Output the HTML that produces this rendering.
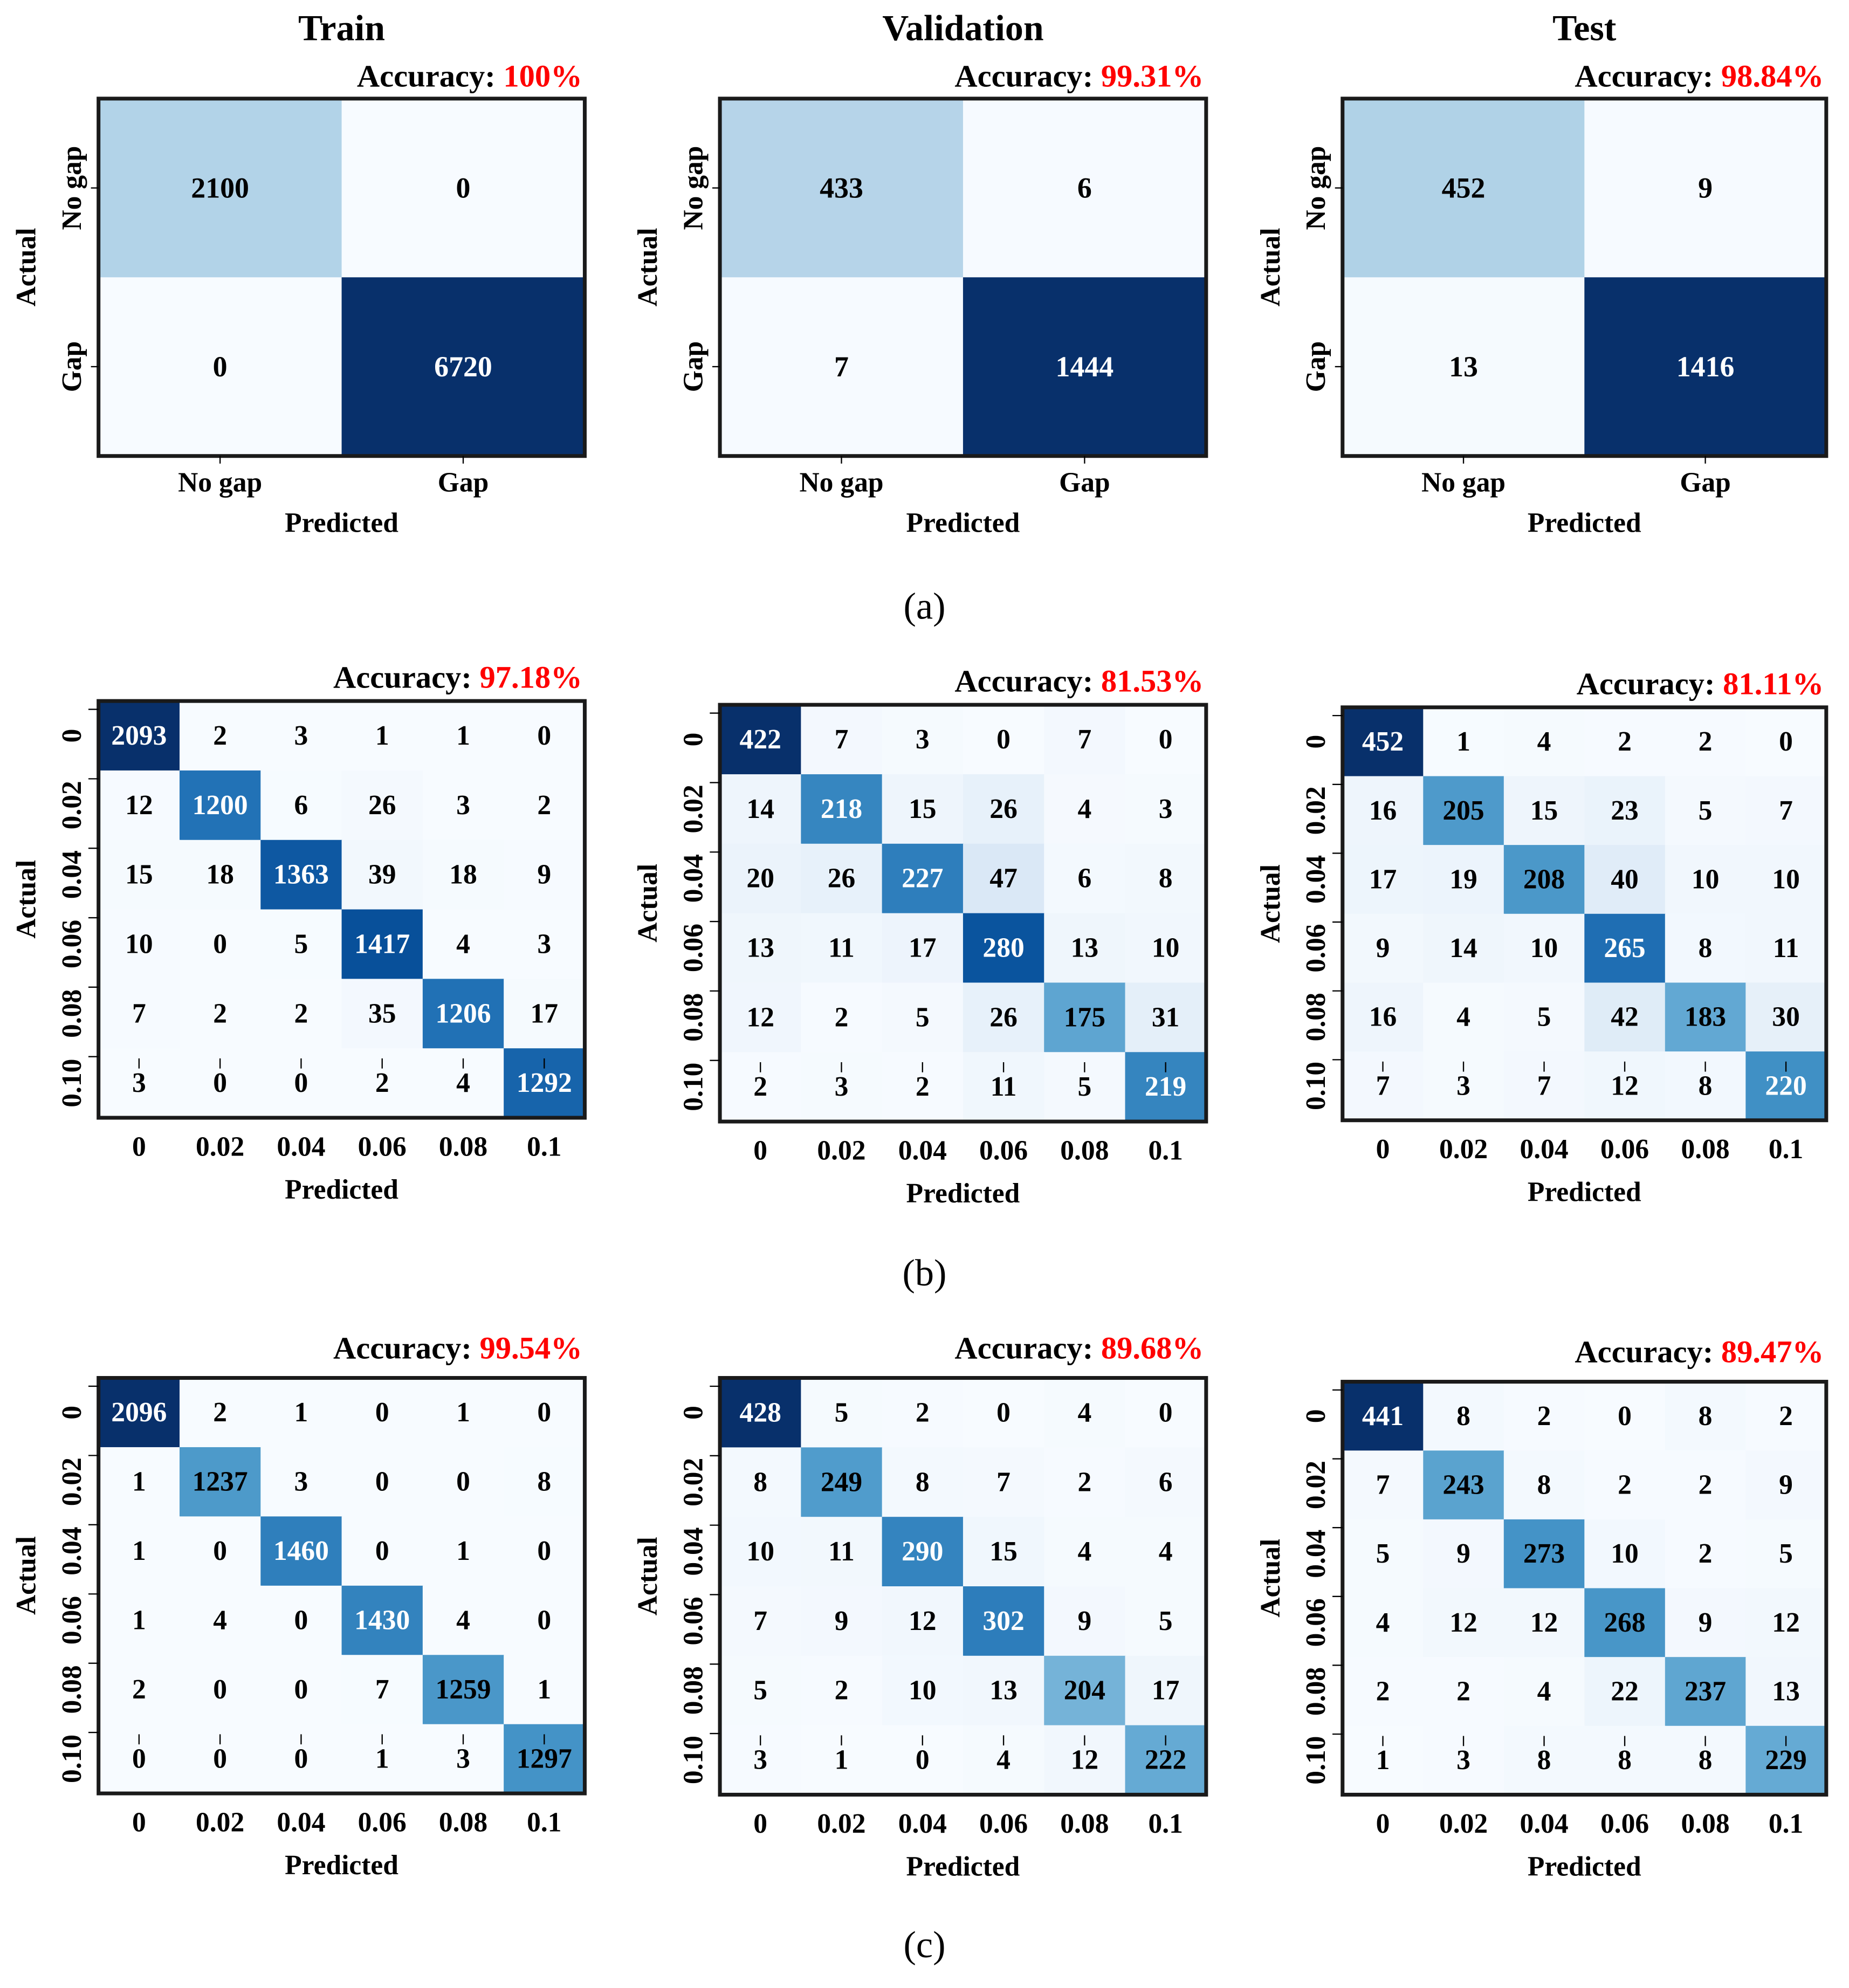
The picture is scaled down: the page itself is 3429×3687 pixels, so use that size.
<!DOCTYPE html>
<html><head><meta charset="utf-8">
<style>
html,body{margin:0;padding:0;background:#fff;}
svg{display:block;}
text{font-family:"Liberation Serif",serif;font-weight:bold;fill:#000;}
</style></head>
<body>
<svg id="fig" xmlns="http://www.w3.org/2000/svg" width="3429" height="3687" viewBox="0 0 1464 1574"></svg>
<script>
// ---- data ----
const binaryLabels = ["No gap","Gap"];
const multiLabelsX = ["0","0.02","0.04","0.06","0.08","0.1"];
const multiLabelsY = ["0","0.02","0.04","0.06","0.08","0.10"];
const panelTitles = ["Train","Validation","Test"];
const accA = ["100%","99.31%","98.84%"];
const accB = ["97.18%","81.53%","81.11%"];
const accC = ["99.54%","89.68%","89.47%"];
const aTrain = [[2100,0],[0,6720]];
const aVal = [[433,6],[7,1444]];
const aTest = [[452,9],[13,1416]];
const bTrain = [[2093,2,3,1,1,0],[12,1200,6,26,3,2],[15,18,1363,39,18,9],[10,0,5,1417,4,3],[7,2,2,35,1206,17],[3,0,0,2,4,1292]];
const bVal = [[422,7,3,0,7,0],[14,218,15,26,4,3],[20,26,227,47,6,8],[13,11,17,280,13,10],[12,2,5,26,175,31],[2,3,2,11,5,219]];
const bTest = [[452,1,4,2,2,0],[16,205,15,23,5,7],[17,19,208,40,10,10],[9,14,10,265,8,11],[16,4,5,42,183,30],[7,3,7,12,8,220]];
const cTrain = [[2096,2,1,0,1,0],[1,1237,3,0,0,8],[1,0,1460,0,1,0],[1,4,0,1430,4,0],[2,0,0,7,1259,1],[0,0,0,1,3,1297]];
const cVal = [[428,5,2,0,4,0],[8,249,8,7,2,6],[10,11,290,15,4,4],[7,9,12,302,9,5],[5,2,10,13,204,17],[3,1,0,4,12,222]];
const cTest = [[441,8,2,0,8,2],[7,243,8,2,2,9],[5,9,273,10,2,5],[4,12,12,268,9,12],[2,2,4,22,237,13],[1,3,8,8,8,229]];

const NS="http://www.w3.org/2000/svg";
const svg=document.getElementById('fig');
const stops=["#f7fbff","#deebf7","#c6dbef","#9ecae1","#6baed6","#4292c6","#2171b5","#08519c","#08306b"];
function hex(h){return [1,3,5].map(i=>parseInt(h.substr(i,2),16));}
function blues(t){t=Math.max(0,Math.min(1,t));const p=t*8,i=Math.min(7,Math.floor(p)),f=p-i;const a=hex(stops[i]),b=hex(stops[i+1]);const c=a.map((v,k)=>Math.round(v+(b[k]-v)*f));return {s:`rgb(${c[0]},${c[1]},${c[2]})`,l:(0.299*c[0]+0.587*c[1]+0.114*c[2])/255};}
function el(tag,attrs,parent){const e=document.createElementNS(NS,tag);for(const k in attrs)e.setAttribute(k,attrs[k]);(parent||svg).appendChild(e);return e;}
function txt(x,y,s,size,parent,extra){const t=el('text',Object.assign({x:x,y:y,'font-size':size,'text-anchor':'middle','dominant-baseline':'central'},extra||{}),parent);t.textContent=s;return t;}

function panel(p){
  const g=el('g',{});
  
  
  const n=p.data.length,cw=(p.x1-p.x0)/n,ch=(p.y1-p.y0)/n;
  const mx=Math.max(...p.data.flat());
  p.data.forEach((row,i)=>row.forEach((v,j)=>{
    const c=blues(Math.min(1,(v/mx)*p.scale));
    const r=el('rect',{x:p.x0+j*cw,y:p.y0+i*ch,width:cw+0.5,height:ch+0.5,fill:c.s},g);
    
    
    const t=txt(p.x0+(j+.5)*cw,p.y0+(i+.5)*ch,String(v),n==2?23:22,g,{style:'fill:'+(c.l<0.5?'#fff':'#000')});
    
    
  }));
  const b=el('rect',{x:p.x0,y:p.y0,width:p.x1-p.x0,height:p.y1-p.y0,fill:'none',stroke:'#1a1a1a','stroke-width':3},g);
  
  
  const lx=p.x0-21;
  for(let k=0;k<n;k++){
    const cy=p.y0+(k+.5)*ch,cx=p.x0+(k+.5)*cw;
    if(n==2){
      el('line',{x1:p.x0-6,x2:p.x0,y1:cy,y2:cy,stroke:'#000','stroke-width':1},g);
      el('line',{x1:cx,x2:cx,y1:p.y1,y2:p.y1+6,stroke:'#000','stroke-width':1},g);
    } else {
      const ty=p.y0+k*ch+ch*0.12;
      el('line',{x1:p.x0-8,x2:p.x0,y1:ty,y2:ty,stroke:'#000','stroke-width':1},g);
      const by=p.y1-ch+8;
      el('line',{x1:cx,x2:cx,y1:by,y2:by+8,stroke:'#000','stroke-width':1},g);
    }
    const yl=txt(lx,cy,p.ylab[k],22,g,{transform:`rotate(-90 ${lx} ${cy})`});
    
    
    const xl=txt(cx,p.y1+(n==2?21:23),p.xlab[k],22,g);
    
    
  }
  const ay=(p.y0+p.y1)/2-8;
  const ax=p.x0-57;
  const at=txt(ax,ay,'Actual',22,g,{transform:`rotate(-90 ${ax} ${ay})`});
  
  
  const pt=txt((p.x0+p.x1)/2,p.y1+(n==2?53:57),'Predicted',22,g);
  
  
  const ac=el('text',{x:p.x1-2,y:p.accY,'font-size':25,'text-anchor':'end','dominant-baseline':'central'},g);
  
  
  const s1=el('tspan',{},ac);s1.textContent='Accuracy:  ';
  const s2=el('tspan',{style:'fill:#ff0000'},ac);s2.textContent=p.acc;
  if(p.title){const tt=txt((p.x0+p.x1)/2,22,p.title,29,g);
    
    }
}
const xs=[[78,463],[570,955],[1063,1446]];
const rowsA=[aTrain,aVal,aTest],rowsB=[bTrain,bVal,bTest],rowsC=[cTrain,cVal,cTest];
const yB=[[555,885,536],[558,888,539],[560,887,541]];
const yC=[[1091,1420,1067],[1091,1421,1067],[1094,1421,1070]];
const nm=['train','validation','test'];
for(let k=0;k<3;k++){
  panel({name:'a-'+nm[k]+'-matrix',data:rowsA[k],x0:xs[k][0],x1:xs[k][1],y0:78,y1:361,accY:60,acc:accA[k],title:panelTitles[k],xlab:binaryLabels,ylab:binaryLabels,scale:1});
  panel({name:'b-'+nm[k]+'-matrix',data:rowsB[k],x0:xs[k][0],x1:xs[k][1],y0:yB[k][0],y1:yB[k][1],accY:yB[k][2],acc:accB[k],xlab:multiLabelsX,ylab:multiLabelsY,scale:1.3});
  panel({name:'c-'+nm[k]+'-matrix',data:rowsC[k],x0:xs[k][0],x1:xs[k][1],y0:yC[k][0],y1:yC[k][1],accY:yC[k][2],acc:accC[k],xlab:multiLabelsX,ylab:multiLabelsY,scale:1});
}
[['(a)',480],['(b)',1008],['(c)',1540]].forEach(([s,y])=>{
  const t=txt(732,y,s,30,svg,{style:'font-weight:normal'});
  
  
});
</script>
</body></html>
